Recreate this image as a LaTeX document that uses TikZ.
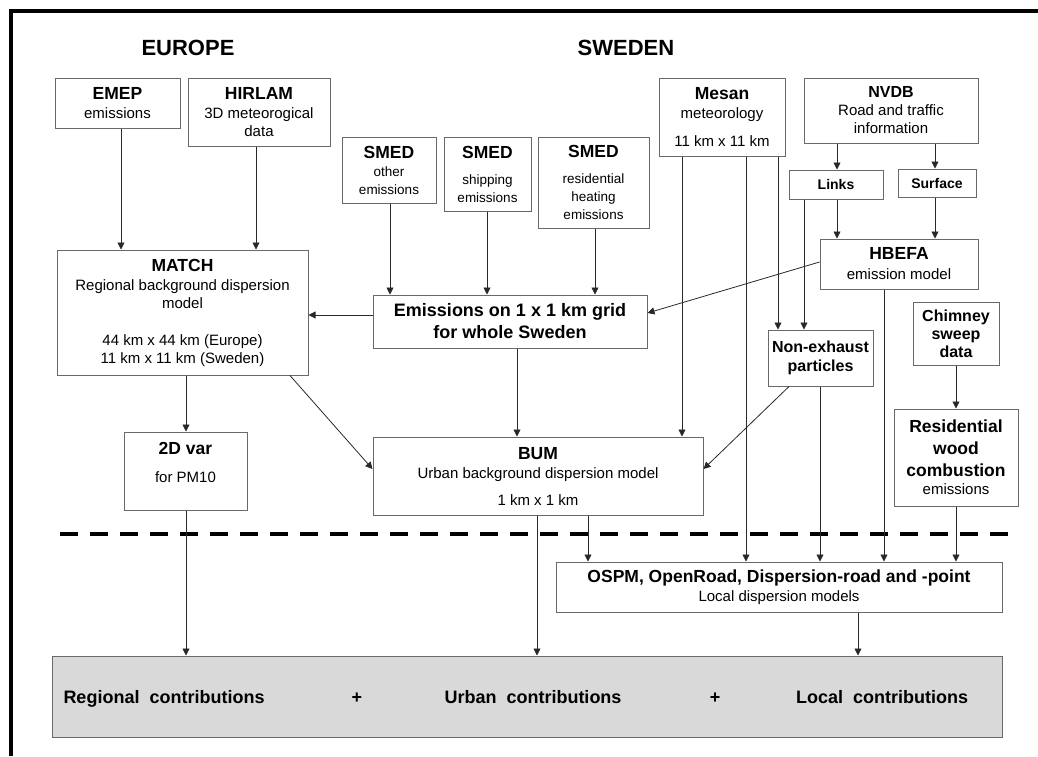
\documentclass[tikz,border=0pt]{standalone}
\usepackage{fontspec}
\setmainfont{Liberation Sans}
\usetikzlibrary{arrows.meta}
\definecolor{boxgray}{RGB}{105,105,105}
\definecolor{fillgray}{RGB}{217,217,217}
\definecolor{arrgray}{RGB}{40,40,40}
\newcommand\bt[2][17.5]{{\fontsize{#1}{#1}\selectfont\bfseries #2}}
\newcommand\nt[2][15]{{\fontsize{#1}{#1}\selectfont #2}}
\tikzset{
  box/.style={draw=boxgray, line width=1pt, inner sep=0pt, align=center,
    font=\fontsize{15}{18}\selectfont},
  arr/.style={draw=arrgray, line width=0.8pt, -{Triangle[length=7pt,width=7pt]}},
  heading/.style={font=\fontsize{22}{24}\selectfont\bfseries},
  sumtext/.style={anchor=base, font=\fontsize{18}{20}\selectfont\bfseries}
}
\begin{document}
\begin{tikzpicture}[x=1pt,y=-1pt]
\useasboundingbox (0,0) rectangle (1038,756);
% frame
\draw[line width=4pt] (11,756) -- (11,11) -- (1038,11);
% headings
\node[heading] (europe) at (188,48) {EUROPE};
\node[heading] (sweden) at (626,48) {SWEDEN};
% boxes
\node[box, minimum width=125, minimum height=50] (emep) at (117.5,103) {\bt{EMEP}\\[1pt]\nt{emissions}};
\node[box, minimum width=142, minimum height=68] (hirlam) at (259,112) {\bt{HIRLAM}\\[1pt]\nt{3D meteorogical}\\\nt{data}};
\node[box, minimum width=94, minimum height=66] (smedo) at (389,170) {\bt{SMED}\\\nt[13.5]{other}\\\nt[13.5]{emissions}};
\node[box, minimum width=87, minimum height=74] (smeds) at (487.5,174) {\bt{SMED}\\[8pt]\nt[13.5]{shipping}\\\nt[13.5]{emissions}};
\node[box, minimum width=111, minimum height=91] (smedr) at (593.5,182.5) {\bt{SMED}\\[8pt]\nt[13.5]{residential}\\\nt[13.5]{heating}\\\nt[13.5]{emissions}};
\node[box, minimum width=126, minimum height=78] (mesan) at (722,117) {\bt{Mesan}\\[1pt]\nt{meteorology}\\[10pt]\nt{11 km x 11 km}};
\node[box, minimum width=174, minimum height=65] (nvdb) at (891,110.5) {\bt[16]{NVDB}\\\nt{Road and traffic}\\\nt{information}};
\node[box, minimum width=94, minimum height=29] (links) at (836,184.5) {\bt[14]{Links}};
\node[box, minimum width=78, minimum height=28] (surface) at (937,183) {\bt[14]{Surface}};
\node[box, minimum width=158, minimum height=50] (hbefa) at (899,264) {\bt{HBEFA}\\[2pt]\nt{emission model}};
\node[box, minimum width=251, minimum height=125] (match) at (182.5,312.5) {\bt{MATCH}\\[1pt]\nt{Regional background dispersion}\\\nt{model}\\[19pt]\nt{44 km x 44 km (Europe)}\\\nt{11 km x 11 km (Sweden)}};
\node[box, minimum width=274, minimum height=53] (grid) at (510,321.5) {\bt[18]{Emissions on 1 x 1 km grid}\\[4pt]\bt[18]{for whole Sweden}};
\node[box, minimum width=105, minimum height=56] (nonex) at (820.5,358) {\bt[16]{Non-exhaust}\\[1pt]\bt[16]{particles}};
\node[box, minimum width=86, minimum height=63] (chimney) at (956,333.5) {\bt[16]{Chimney}\\\bt[16]{sweep}\\\bt[16]{data}};
\node[box, minimum width=124, minimum height=97] (resid) at (956,457.5) {\bt{Residential}\\[4pt]\bt{wood}\\[4pt]\bt{combustion}\\\nt{emissions}};
\node[box, minimum width=123, minimum height=78] (twod) at (185.5,471) {\bt{2D var}\\[10pt]\nt{for PM10}\\[0pt]};
\node[box, minimum width=330, minimum height=78] (bum) at (538,476) {\bt{BUM}\\[1pt]\nt{Urban background dispersion model}\\[9pt]\nt{1 km x 1 km}};
\node[box, minimum width=446, minimum height=50] (ospm) at (779,587) {\bt{OSPM, OpenRoad, Dispersion-road and -point}\\[1pt]\nt{Local dispersion models}};
\node[box, fill=fillgray, minimum width=950, minimum height=81] (total) at (527,696.5) {};
\node[sumtext] (regc) at (164,703) {Regional~~contributions};
\node[sumtext] (plus1) at (357,703) {+};
\node[sumtext] (urbc) at (533,703) {Urban~~contributions};
\node[sumtext] (plus2) at (715,703) {+};
\node[sumtext] (locc) at (882,703) {Local~~contributions};
% dashed divider
\draw[line width=4pt, dash pattern=on 18pt off 12pt] (60,534) -- (1018,534);
% connectors
\draw[arr] (emep.south -| 121,0) -- (match.north -| 121,0);
\draw[arr] (hirlam.south -| 256,0) -- (match.north -| 256,0);
\draw[arr] (smedo.south -| 390,0) -- (grid.north -| 390,0);
\draw[arr] (smeds.south -| 487,0) -- (grid.north -| 487,0);
\draw[arr] (smedr.south -| 595,0) -- (grid.north -| 595,0);
\draw[arr] (grid.west |- 0,315) -- (match.east |- 0,315);
\draw[arr] (hbefa.west |- 0,262) -- (grid.east |- 0,313);
\draw[arr] (nvdb.south -| 837,0) -- (links.north -| 837,0);
\draw[arr] (nvdb.south -| 935,0) -- (surface.north -| 935,0);
\draw[arr] (links.south -| 837,0) -- (hbefa.north -| 837,0);
\draw[arr] (surface.south -| 935,0) -- (hbefa.north -| 935,0);
\draw[arr] (mesan.south -| 682,0) -- (bum.north -| 682,0);
\draw[arr] (mesan.south -| 746,0) -- (ospm.north -| 746,0);
\draw[arr] (mesan.south -| 778,0) -- (nonex.north -| 778,0);
\draw[arr] (links.south -| 804,0) -- (nonex.north -| 804,0);
\draw[arr] (hbefa.south -| 884,0) -- (ospm.north -| 884,0);
\draw[arr] (chimney.south -| 956,0) -- (resid.north -| 956,0);
\draw[arr] (grid.south -| 517,0) -- (bum.north -| 517,0);
\draw[arr] (match.south -| 186,0) -- (twod.north -| 186,0);
\draw[arr] (match.south -| 290,0) -- (bum.west |- 0,469);
\draw[arr] (nonex.south -| 789,0) -- (bum.east |- 0,469);
\draw[arr] (bum.south -| 588,0) -- (ospm.north -| 588,0);
\draw[arr] (nonex.south -| 820,0) -- (ospm.north -| 820,0);
\draw[arr] (resid.south -| 956,0) -- (ospm.north -| 956,0);
\draw[arr] (bum.south -| 537,0) -- (total.north -| 537,0);
\draw[arr] (twod.south -| 186,0) -- (total.north -| 186,0);
\draw[arr] (ospm.south -| 858,0) -- (total.north -| 858,0);
\end{tikzpicture}
\end{document}
